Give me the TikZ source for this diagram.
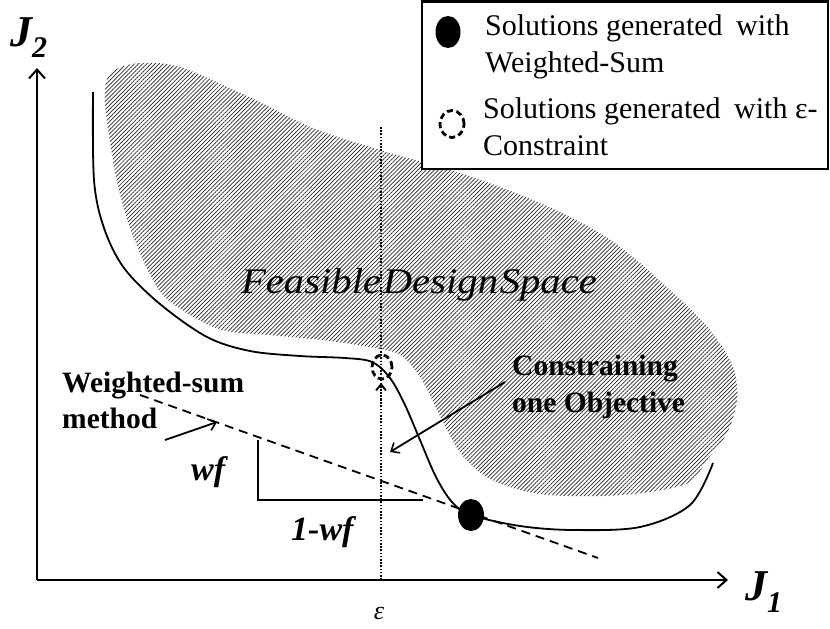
\documentclass[tikz,border=0pt]{standalone}
\usepackage{fontspec}
\setmainfont{Liberation Serif}
\usetikzlibrary{arrows.meta,patterns.meta,shapes.geometric}
\begin{document}
\begin{tikzpicture}[x=1pt,y=-1pt,
  axisline/.style={line width=2pt,-{Straight Barb[length=9pt,width=16pt,line width=2pt]}},
  pointer/.style={line width=1.8pt,-{Straight Barb[length=7pt,width=12pt,line width=1.6pt]}},
  curveline/.style={line width=1.8pt},
  boldlbl/.style={inner sep=0pt,anchor=base west,font=\fontsize{29.5}{34}\selectfont\bfseries},
  itlbl/.style={inner sep=0pt,anchor=base west,font=\fontsize{34}{38}\selectfont\bfseries\itshape},
  legtxt/.style={inner sep=0pt,anchor=base west,font=\fontsize{30}{35}\selectfont},
  wsdot/.style={ellipse,fill=black,inner sep=0pt,minimum width=26pt,minimum height=32pt},
  ecircle/.style={ellipse,draw=black,line width=2.8pt,dash pattern=on 6pt off 3.5pt,inner sep=0pt},
  hatch/.style={pattern={Lines[angle=45,distance=2.9pt,line width=0.7pt]},pattern color=black!85}
]
\useasboundingbox (0,0) rectangle (830,629);

% feasible region
\path[hatch] plot[smooth cycle, tension=0.55] coordinates {
  (108,77) (167,64) (247,96) (313,128) (380,150) (440,167) (500,187) (560,212)
  (615,243) (670,290) (710,330) (733,367) (737,400) (727,433) (707,460) (690,482)
  (650,492) (600,496) (540,494) (492,480) (462,455) (442,420) (422,380) (402,356)
  (380,349) (330,341) (270,335) (222,330) (182,310) (157,287) (130,228) (113,160)};

\node[inner sep=0pt,anchor=base] (fds) at (419,293)
  {\scalebox{1.13}[1]{\fontsize{36}{40}\selectfont\itshape\spaceskip=1.5pt Feasible Design Space}};

% axes
\coordinate (O) at (37,580);
\coordinate (ytip) at (37,68);
\coordinate (xtip) at (728,580);
\draw[axisline] (O) -- (ytip);
\draw[axisline] (O) -- (xtip);
\node[inner sep=0pt,anchor=base west] (j2) at (10,46)
  {\fontsize{44}{44}\selectfont\bfseries\itshape J\raisebox{-11pt}{\fontsize{30}{30}\selectfont 2}};
\node[inner sep=0pt,anchor=base west] (j1) at (745,600)
  {\fontsize{44}{44}\selectfont\bfseries\itshape J\raisebox{-12pt}{\fontsize{30}{30}\selectfont 1}};
\node[inner sep=0pt,anchor=base] (eps) at (379,619) {\fontsize{26}{26}\selectfont\itshape ε};

% epsilon constraint dotted line
\coordinate (dtop) at (381,127);
\coordinate (dbot) at (381,580);
\coordinate (darrow) at (381,383);
\draw[line width=1.6pt,dash pattern=on 1.6pt off 1.6pt] (dtop) -- (dbot);
\draw[line width=1.6pt,dash pattern=on 1.6pt off 1.6pt,-{Straight Barb[length=6pt,width=10pt,line width=1.8pt]}] (381,400) -- (darrow);

% weighted-sum dashed line and triangle
\coordinate (wsA) at (140,395);
\coordinate (wsB) at (598,558);
\draw[line width=1.8pt,dash pattern=on 9pt off 6pt] (wsA) -- (wsB);
\coordinate (triT) at (258,440);
\coordinate (triC) at (258,500);
\coordinate (triR) at (423,500);
\draw[line width=1.8pt] (triT) -- (triC) -- (triR);
\node[itlbl] (wf) at (191,480) {wf};
\node[itlbl] (omwf) at (291,540) {1-wf};

% Pareto front
\draw[curveline] plot[smooth, tension=0.55] coordinates {
  (93,92) (94,180) (104,228) (124,268) (160,304) (207,337) (250,351) (300,356)
  (345,358) (372,362) (390,378) (405,405) (420,440) (436,477) (452,502) (471,515)
  (520,526) (573,530) (640,527) (690,505) (713,463)};

\node[wsdot] (dotA) at (471,515) {};
\node[ecircle,minimum width=20pt,minimum height=24pt] (circA) at (382,367) {};

% labels with arrows
\node[boldlbl] (wsm1) at (62,392) {Weighted-sum};
\node[boldlbl] (wsm2) at (62,428) {method};
\coordinate (wsmS) at (165,440);
\coordinate (wsmE) at (217,422);
\draw[pointer] (wsmS) -- (wsmE);

\node[boldlbl] (co1) at (512,375) {Constraining};
\node[boldlbl] (co2) at (512,412) {one Objective};
\coordinate (coS) at (505,382);
\coordinate (coE) at (390,452);
\draw[pointer] (coS) -- (coE);

% legend
\draw[line width=2.4pt,fill=white] (422,1.5) rectangle (828,169);
\node[wsdot,minimum width=25pt,minimum height=32pt] (legdot) at (448,32) {};
\node[ecircle,minimum width=24pt,minimum height=27pt] (legcirc) at (452,124) {};
\node[legtxt] (l1) at (485,35) {Solutions generated\hspace{6pt} with};
\node[legtxt] (l2) at (485,72) {Weighted-Sum};
\node[legtxt] (l3) at (483,118) {Solutions generated\hspace{6pt} with ε-};
\node[legtxt] (l4) at (483,155) {Constraint};
\end{tikzpicture}
\end{document}
